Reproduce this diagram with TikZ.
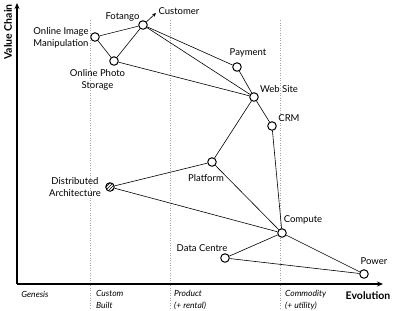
\documentclass[tikz,border=0pt]{standalone}
\usepackage{fontspec}
\setmainfont{Lato}
\usetikzlibrary{arrows.meta,patterns}
\begin{document}
\begin{tikzpicture}[x=1pt,y=-1pt,
  comp/.style={circle,draw=black,line width=1pt,fill=white,minimum size=8.5pt,inner sep=0pt},
  lbl/.style={font=\fontsize{9.5}{11.5}\selectfont,inner sep=0pt,align=center},
  stage/.style={font=\fontsize{8.5}{12}\selectfont\itshape,inner sep=0pt,align=left,anchor=north west},
  link/.style={line width=0.6pt},
  grid/.style={gray!70,dotted,line width=0.5pt},
  axis/.style={line width=1.2pt,-{Stealth[length=6pt,width=5pt]}},
  axlbl/.style={font=\fontsize{10.5}{12}\selectfont\bfseries,inner sep=0pt}]
\useasboundingbox (0,0) rectangle (400,311);
% grid lines
\coordinate (g1t) at (90,20); \coordinate (g1b) at (90,309);
\coordinate (g2t) at (170,20); \coordinate (g2b) at (170,309);
\coordinate (g3t) at (280,20); \coordinate (g3b) at (280,309);
\draw[grid] (g1t) -- (g1b);
\draw[grid] (g2t) -- (g2b);
\draw[grid] (g3t) -- (g3b);
% axes
\coordinate (o) at (17,284);
\coordinate (ytop) at (17,3);
\coordinate (xend) at (383,284);
\draw[axis] (o) -- (ytop);
\draw[axis] (o) -- (xend);
\node[axlbl,rotate=90] (vc) at (8,32) {Value Chain};
\node[axlbl] (evo) at (368,296) {Evolution};
\node[lbl,font=\fontsize{8.5}{10}\selectfont\itshape] (gen) at (35,294) {Genesis};
\node[stage] (cb) at (96,290) {Custom\\Built};
\node[stage] (pr) at (174,290) {Product\\(+ rental)};
\node[stage] (cm) at (285,290) {Commodity\\(+ utility)};
% components
\node[comp] (oim) at (95,37) {};
\node[comp] (ops) at (114,61) {};
\node[comp] (fot) at (143,25) {};
\node[comp] (pay) at (237,67) {};
\node[comp] (web) at (254,97) {};
\node[comp] (crm) at (272,126) {};
\node[comp] (plat) at (212,162) {};
\node[circle,draw=black,line width=1pt,minimum size=8.5pt,inner sep=0pt,fill=white,postaction={pattern=north east lines}] (dist) at (110,187) {};
\node[comp] (cmp) at (282,233) {};
\node[comp] (dc) at (225,258) {};
\node[comp] (pow) at (364,274) {};
\coordinate (custtip) at (156,13);
% links
\draw[link] (oim) -- (fot);
\draw[link] (oim) -- (ops);
\draw[link] (ops) -- (fot);
\draw[link,-{Stealth[length=4pt,width=3.5pt]}] (fot) -- (custtip);
\draw[link] (fot) -- (pay);
\draw[link] (fot) -- (web);
\draw[link] (ops) -- (web);
\draw[link] (pay) -- (web);
\draw[link] (web) -- (crm);
\draw[link] (web) -- (plat);
\draw[link] (crm) -- (cmp);
\draw[link] (plat) -- (cmp);
\draw[link] (plat) -- (dist);
\draw[link] (dist) -- (cmp);
\draw[link] (cmp) -- (dc);
\draw[link] (cmp) -- (pow);
\draw[link] (dc) -- (pow);
% labels
\node[lbl] (lfot) at (122.5,17) {Fotango};
\node[lbl] (lcust) at (179,11) {Customer};
\node[lbl] (loim) at (61,38) {Online Image\\Manipulation};
\node[lbl] (lops) at (97.5,80) {Online Photo\\Storage};
\node[lbl] (lpay) at (248,53) {Payment};
\node[lbl] (lweb) at (279,89) {Web Site};
\node[lbl] (lcrm) at (289,118) {CRM};
\node[lbl] (lplat) at (206,178) {Platform};
\node[lbl] (ldist) at (75,187) {Distributed\\Architecture};
\node[lbl] (lcmp) at (303,220) {Compute};
\node[lbl] (ldc) at (202,248) {Data Centre};
\node[lbl] (lpow) at (374,261) {Power};
\end{tikzpicture}
\end{document}
